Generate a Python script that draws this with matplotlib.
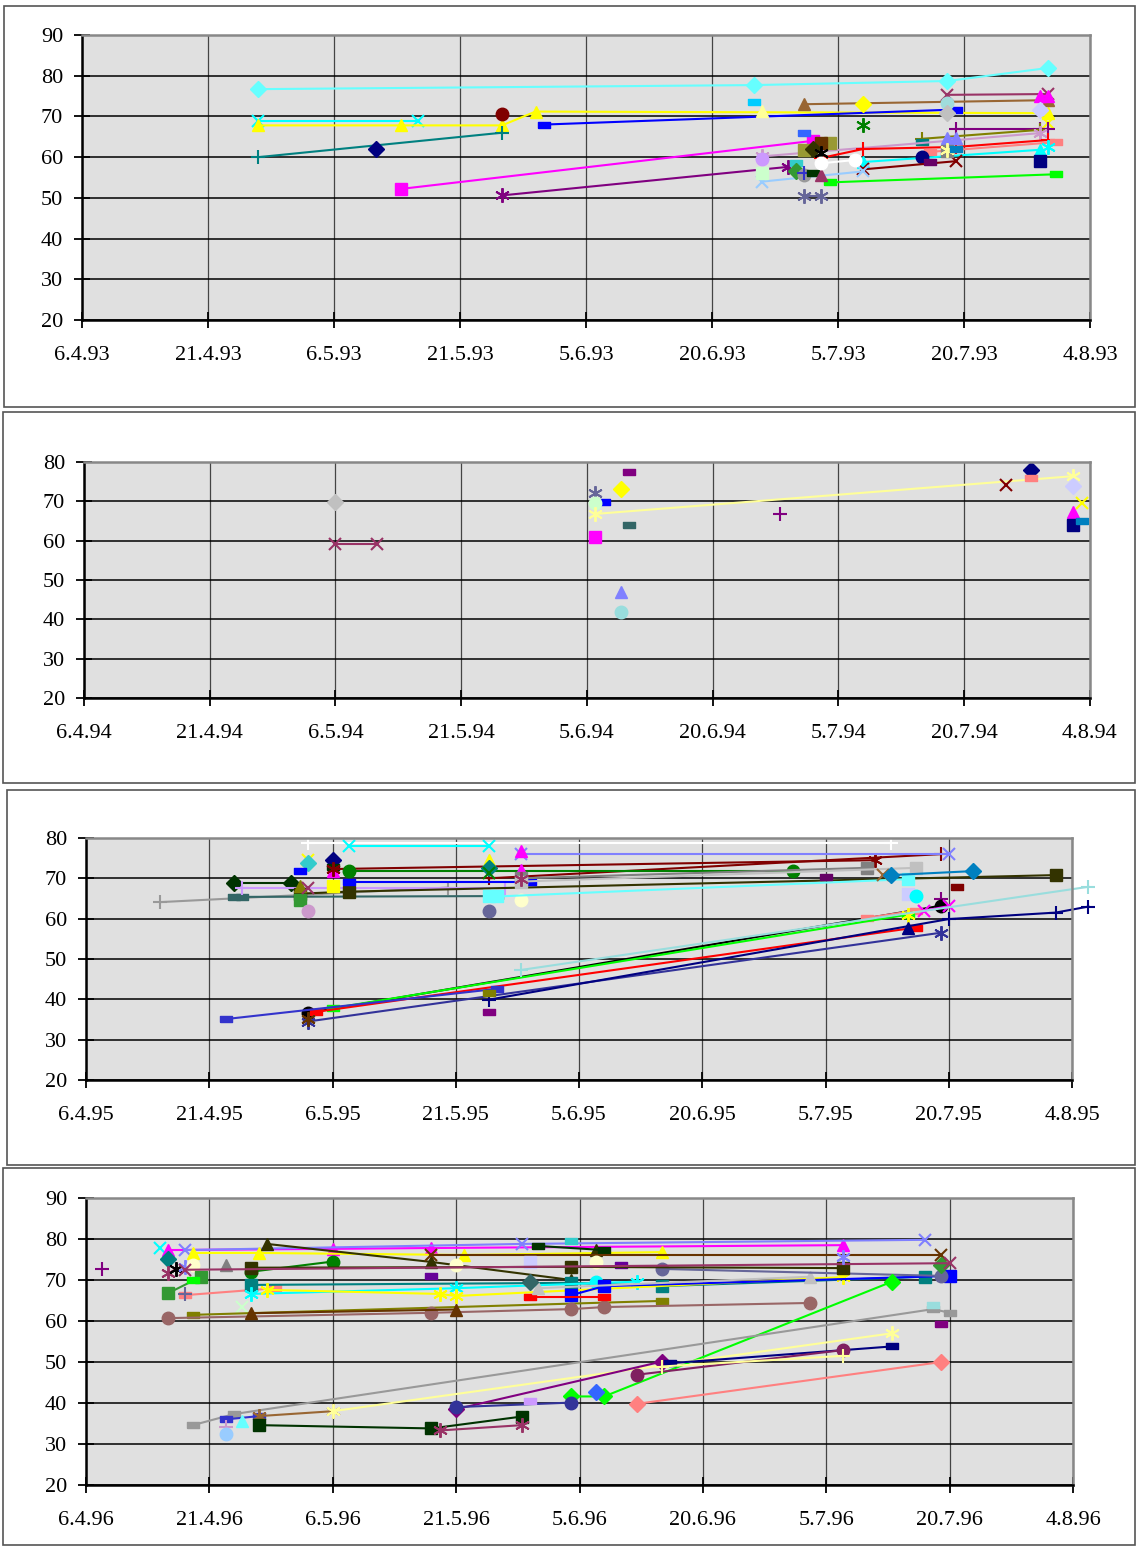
import matplotlib
matplotlib.use('Agg')
import matplotlib.pyplot as plt
import matplotlib.dates as mdates
from matplotlib.patches import Rectangle
import pandas as pd

plt.rcParams['font.family'] = ['Liberation Serif', 'DejaVu Serif']

W, H = 1136, 1546

# ---------------- 1993 ----------------
p1_series = [
    [('27.4', 76.7), ('25.6', 77.7), ('18.7', 78.7), ('30.7', 81.9)],
    [('27.4', 68.8), ('16.5', 68.8)],
    [('27.4', 67.8), ('14.5', 67.8), ('26.5', 67.8), ('30.5', 71.2), ('30.7', 70.8)],
    [('27.4', 60.0), ('26.5', 66.0)],
    [('11.5', 62.0)],
    [('26.5', 70.7)],
    [('31.5', 68.0), ('19.7', 71.7)],
    [('14.5', 52.2), ('2.7', 64.0)],
    [('26.5', 50.6), ('29.6', 57.6)],
    [('1.7', 73.0), ('30.7', 74.0)],
    [('8.7', 73.0)],
    [('18.7', 75.3), ('30.7', 75.5)],
    [('18.7', 73.4)],
    [('18.7', 70.8)],
    [('29.7', 75.0), ('30.7', 75.0)],
    [('29.7', 71.5)],
    [('30.7', 68.5)],
    [('8.7', 67.8)],
    [('19.7', 67.0), ('29.7', 67.0), ('30.7', 67.0)],
    [('15.7', 64.5), ('29.7', 66.7)],
    [('15.7', 63.7)],
    [('26.6', 60.2), ('29.7', 65.9)],
    [('26.6', 59.5)],
    [('3.7', 59.8), ('8.7', 62.0), ('19.7', 62.5), ('30.7', 64.2)],
    [('16.7', 61.3), ('31.7', 63.7)],
    [('8.7', 58.8), ('29.7', 61.8)],
    [('30.7', 62.5)],
    [('29.7', 59.0)],
    [('15.7', 60.0)],
    [('8.7', 57.0), ('19.7', 59.0)],
    [('26.6', 54.0), ('8.7', 56.5)],
    [('26.6', 56.0)],
    [('4.7', 53.8), ('31.7', 55.8)],
    [('1.7', 50.5), ('3.7', 50.5)],
    [('1.7', 61.8), ('4.7', 63.5)],
    [('3.7', 63.5)],
    [('2.7', 62.0)],
    [('3.7', 61.0)],
    [('30.6', 58.5)],
    [('30.6', 56.5)],
    [('1.7', 55.5)],
    [('1.7', 56.0)],
    [('2.7', 56.0)],
    [('3.7', 55.5)],
    [('3.7', 58.5), ('7.7', 59.3)],
    [('1.7', 66.0)],
    [('25.6', 73.5)],
    [('26.6', 71.3)],
    [('18.7', 64.8), ('19.7', 64.8)],
    [('18.7', 61.5)],
    [('18.7', 61.8)],
    [('19.7', 62.0)],
    [('16.7', 58.8)],
]
p1_styles = [
    ('#66ffff', 'D'), ('#00ffff', 'x'), ('#ffff00', '^'), ('#008080', '+'),
    ('#000080', 'D'), ('#800000', 'o'), ('#0000ff', '-'), ('#ff00ff', 's'),
    ('#800080', '*'), ('#996633', '^'), ('#ffff00', 'D'), ('#993366', 'x'),
    ('#a0dcdc', 'o'), ('#c0c0c0', 'D'), ('#ff00ff', '^'), ('#ccccff', 'D'),
    ('#ffff00', 'x'), ('#008000', '*'), ('#800080', '+'), ('#808000', '+'),
    ('#008080', '-'), ('#cc99cc', '*'), ('#cc99ff', 'o'), ('#ff0000', '+'),
    ('#ff8080', '-'), ('#00ffff', '^'), ('#00ffff', '*'), ('#000080', 's'),
    ('#000080', 'o'), ('#800000', 'x'), ('#99ccff', 'x'), ('#ccffcc', 's'),
    ('#00ff00', '-'), ('#666699', '*'), ('#999933', 's'), ('#663300', 's'),
    ('#333300', 'D'), ('#000000', '*'), ('#33cccc', '-'), ('#339933', 'D'),
    ('#999999', 'o'), ('#3333cc', '+'), ('#003300', '-'), ('#993366', '^'),
    ('#ffffff', 'o'), ('#3366ff', '-'), ('#00ccff', '-'), ('#ffff99', '^'),
    ('#8080ff', '^'), ('#808080', 's'), ('#ffff99', '*'), ('#0080c0', '-'),
    ('#660066', '-'),
]

# ---------------- 1994 ----------------
p2_series = [
    [('6.5', 69.8)],
    [('6.5', 59.2), ('11.5', 59.2)],
    [('6.6', 72.0)],
    [('7.6', 69.8)],
    [('6.6', 69.7)],
    [('6.6', 66.8), ('2.8', 76.4)],
    [('6.6', 61.0)],
    [('9.6', 73.1)],
    [('10.6', 77.5)],
    [('10.6', 64.0)],
    [('9.6', 47.0)],
    [('9.6', 41.9)],
    [('28.6', 66.8)],
    [('25.7', 74.1)],
    [('28.7', 78.0)],
    [('28.7', 76.0)],
    [('2.8', 73.9)],
    [('3.8', 69.6)],
    [('2.8', 67.4)],
    [('2.8', 64.0)],
    [('3.8', 65.0)],
]
p2_styles = [
    ('#c0c0c0', 'D'), ('#993366', 'x'), ('#666699', '*'), ('#0000ff', '-'),
    ('#ccffcc', 'o'), ('#ffff99', '*'), ('#ff00ff', 's'), ('#ffff00', 'D'),
    ('#800080', '-'), ('#336666', '-'), ('#8080ff', '^'), ('#99dddd', 'o'),
    ('#800080', '+'), ('#800000', 'x'), ('#000080', 'D'), ('#ff8080', '-'),
    ('#ccccff', 'D'), ('#ffff00', 'x'), ('#ff00ff', '^'), ('#000080', 's'),
    ('#0080c0', '-'),
]

# ---------------- 1995 ----------------
p3_series = [
    [('15.4', 64.1), ('20.5', 67.7)],
    [('24.4', 68.9), ('1.5', 68.9)],
    [('24.4', 65.4), ('25.4', 65.4), ('26.5', 65.6)],
    [('25.4', 67.6), ('27.5', 67.6)],
    [('2.5', 66.2), ('8.5', 66.7), ('2.8', 70.8)],
    [('2.5', 68.0)],
    [('2.5', 64.6)],
    [('3.5', 62.0)],
    [('3.5', 74.6)],
    [('3.5', 73.8)],
    [('3.5', 67.5)],
    [('3.5', 78.8), ('13.7', 78.8)],
    [('2.5', 71.8)],
    [('6.5', 74.6)],
    [('6.5', 71.8)],
    [('6.5', 68.0)],
    [('6.5', 72.8)],
    [('6.5', 72.3), ('11.7', 74.5)],
    [('25.5', 70.0), ('19.7', 76.0)],
    [('8.5', 71.8), ('1.7', 71.8)],
    [('8.5', 78.0), ('25.5', 78.0)],
    [('29.5', 76.0), ('20.7', 76.0)],
    [('29.5', 76.7)],
    [('29.5', 72.0)],
    [('25.5', 74.5)],
    [('25.5', 72.5)],
    [('25.5', 71.3)],
    [('8.5', 69.0), ('30.5', 69.0)],
    [('25.5', 65.5)],
    [('25.5', 61.8)],
    [('29.5', 64.6)],
    [('26.5', 65.5), ('15.7', 69.8)],
    [('29.5', 70.0), ('10.7', 72.6)],
    [('29.5', 69.2), ('16.7', 72.6)],
    [('29.5', 69.8)],
    [('5.7', 70.3)],
    [('12.7', 70.8)],
    [('13.7', 70.8), ('23.7', 71.8)],
    [('15.7', 66.1)],
    [('16.7', 65.6)],
    [('21.7', 67.9)],
    [('19.7', 64.8)],
    [('3.5', 36.6), ('19.7', 63.2)],
    [('10.7', 60.2), ('16.7', 62.0)],
    [('17.7', 62.0), ('20.7', 63.1)],
    [('6.5', 37.8), ('15.7', 61.0)],
    [('15.7', 60.9)],
    [('4.5', 36.9), ('16.7', 57.8)],
    [('15.7', 57.7)],
    [('3.5', 34.5), ('19.7', 56.5)],
    [('25.5', 39.9), ('20.7', 59.9), ('2.8', 61.5), ('6.8', 63.0)],
    [('23.4', 35.1), ('26.5', 42.6)],
    [('29.5', 47.3), ('6.8', 67.9)],
    [('25.5', 41.6)],
    [('25.5', 36.9)],
    [('3.5', 35.0)],
]
p3_styles = [
    ('#999999', '+'), ('#003300', 'D'), ('#336666', '-'), ('#cc99ff', '+'),
    ('#333300', 's'), ('#808000', '^'), ('#339933', 's'), ('#cc99cc', 'o'),
    ('#ffff00', 'x'), ('#33cccc', 'D'), ('#993366', 'x'), ('#ffffff', '+'),
    ('#0000ff', '-'), ('#000080', 'D'), ('#ff00ff', '^'), ('#ffff00', 's'),
    ('#003300', '-'), ('#800000', '*'), ('#800000', '+'), ('#008000', 'o'),
    ('#00ffff', 'x'), ('#8080ff', 'x'), ('#ff00ff', '^'), ('#ff00ff', '^'),
    ('#ffff00', '^'), ('#008080', 'D'), ('#008000', 'x'), ('#0000ff', '-'),
    ('#66ffff', 's'), ('#666699', 'o'), ('#ffffcc', 'o'), ('#66ffff', 's'),
    ('#808080', 's'), ('#c0c0c0', 's'), ('#993366', '*'), ('#660066', '-'),
    ('#996633', 'x'), ('#0080c0', 'D'), ('#ccccff', 's'), ('#00ffff', 'o'),
    ('#800000', '-'), ('#800080', '+'), ('#000000', 'o'), ('#ff8080', '-'),
    ('#ff00ff', 'x'), ('#00ff00', '-'), ('#ffff00', '*'), ('#ff0000', '-'),
    ('#000080', '^'), ('#333399', '*'), ('#000080', '+'), ('#3333cc', '-'),
    ('#99dddd', '+'), ('#808000', '-'), ('#800080', '-'), ('#663300', '*'),
]

# ---------------- 1996 ----------------
p4_series = [
    [('8.4', 72.6)],
    [('15.4', 77.7)],
    [('16.4', 77.3), ('6.5', 77.6), ('18.5', 77.8), ('7.7', 78.5)],
    [('18.4', 77.3), ('29.5', 78.8), ('17.7', 79.8)],
    [('19.4', 76.6), ('27.4', 76.6), ('22.5', 76.1), ('15.6', 76.8)],
    [('16.4', 75.1)],
    [('16.4', 71.7)],
    [('17.4', 72.7)],
    [('18.4', 73.2)],
    [('19.4', 73.7)],
    [('16.4', 66.8), ('20.4', 70.8)],
    [('19.4', 70.0)],
    [('18.4', 66.3), ('29.4', 68.0)],
    [('18.4', 66.6)],
    [('25.4', 63.4)],
    [('19.4', 61.5), ('15.6', 64.9)],
    [('16.4', 60.7), ('18.5', 62.0), ('4.6', 62.9), ('8.6', 63.4), ('3.7', 64.4)],
    [('26.4', 61.9), ('21.5', 62.8)],
    [('28.4', 78.8), ('18.5', 74.4), ('4.6', 70.0)],
    [('7.6', 77.3)],
    [('31.5', 78.3), ('8.6', 77.3)],
    [('4.6', 79.4)],
    [('26.4', 72.0), ('6.5', 74.5)],
    [('18.5', 76.1), ('19.7', 76.1)],
    [('26.4', 68.8), ('4.6', 69.3), ('15.6', 68.5), ('17.7', 70.8)],
    [('26.4', 66.6), ('21.5', 68.0), ('12.6', 69.6)],
    [('7.6', 69.6)],
    [('28.4', 67.6), ('19.5', 66.6), ('21.5', 66.1), ('7.7', 70.7)],
    [('4.6', 66.3), ('8.6', 68.5), ('20.7', 71.0)],
    [('30.5', 65.8), ('8.6', 65.8)],
    [('31.5', 68.0), ('3.7', 70.8)],
    [('23.4', 73.7)],
    [('15.6', 72.7), ('19.7', 71.0)],
    [('10.6', 73.7)],
    [('18.5', 71.0)],
    [('30.5', 74.5)],
    [('21.5', 73.7)],
    [('7.6', 74.5)],
    [('30.5', 69.6)],
    [('26.4', 73.0), ('4.6', 73.2), ('7.7', 72.9)],
    [('19.7', 73.7)],
    [('18.4', 72.5), ('20.7', 74.1)],
    [('7.7', 75.6)],
    [('4.6', 41.6), ('8.6', 41.6), ('13.7', 69.6)],
    [('7.6', 42.6)],
    [('12.6', 39.8), ('19.7', 50.0)],
    [('19.4', 34.6), ('24.4', 37.3), ('18.7', 62.9), ('20.7', 62.0)],
    [('18.7', 64.0)],
    [('19.7', 59.3)],
    [('23.4', 36.0), ('27.4', 36.8)],
    [('27.4', 36.8), ('6.5', 38.0)],
    [('6.5', 38.0), ('13.7', 57.0)],
    [('25.4', 35.6)],
    [('23.4', 34.2)],
    [('23.4', 32.4)],
    [('27.4', 34.6), ('18.5', 33.8), ('29.5', 36.7)],
    [('19.5', 33.3), ('29.5', 34.6)],
    [('21.5', 38.5), ('15.6', 50.1)],
    [('21.5', 39.0), ('4.6', 40.1)],
    [('30.5', 40.6)],
    [('16.6', 49.7), ('13.7', 53.8)],
    [('12.6', 46.9), ('7.7', 52.9)],
    [('15.6', 48.9), ('7.7', 51.5)],
]
p4_styles = [
    ('#800080', '+'), ('#00ffff', 'x'), ('#ff00ff', '^'), ('#8080ff', 'x'),
    ('#ffff00', '^'), ('#008080', 'D'), ('#993366', '*'), ('#000000', '*'),
    ('#8080ff', '*'), ('#ffffcc', 'o'), ('#339933', 's'), ('#00ff00', '-'),
    ('#ff8080', '-'), ('#666699', '+'), ('#ccffcc', 'x'), ('#808000', '-'),
    ('#996666', 'o'), ('#663300', '^'), ('#333300', '^'), ('#333300', '^'),
    ('#003300', '-'), ('#33cccc', '-'), ('#008000', 'o'), ('#663300', 'x'),
    ('#008080', 's'), ('#00ffff', '*'), ('#00ffff', 'o'), ('#ffff00', '*'),
    ('#0000ff', 's'), ('#ff0000', '-'), ('#c0c0c0', '^'), ('#808080', '^'),
    ('#666699', 'o'), ('#660099', '-'), ('#660099', '-'), ('#ccccff', 's'),
    ('#ffffcc', 'o'), ('#ffffcc', 'o'), ('#336666', 'D'), ('#333300', 's'),
    ('#339933', 'D'), ('#993366', 'x'), ('#8080ff', '*'), ('#00ff00', 'D'),
    ('#3366ff', 'D'), ('#ff8080', 'D'), ('#999999', '-'), ('#99dddd', '-'),
    ('#800080', '-'), ('#3333cc', '-'), ('#996633', '*'), ('#ffff99', '*'),
    ('#66ffff', '^'), ('#cc99cc', '+'), ('#99ccff', 'o'), ('#003300', 's'),
    ('#993366', '*'), ('#800080', 'D'), ('#333399', 'o'), ('#cc99ff', '-'),
    ('#000080', '-'), ('#802060', 'o'), ('#ffff99', '+'),
]

years = [1993, 1994, 1995, 1996]
y_ranges = [(20, 90), (20, 80), (20, 80), (20, 90)]

# layout in pixels: outer frame and plot area (left, top, right, bottom)
frames = [(4, 6, 1135, 407), (3, 412, 1135, 783), (7, 790, 1135, 1165), (3, 1168, 1135, 1545)]
boxes = [(82, 35, 1090, 320), (84, 462, 1090, 698), (86, 838, 1072, 1080), (86, 1198, 1073, 1485)]

RECT = [(-1, -0.5), (1, -0.5), (1, 0.5), (-1, 0.5), (-1, -0.5)]
MARKERS = {
    'D': dict(marker='D', ms=8),
    's': dict(marker='s', ms=8),
    '^': dict(marker='^', ms=9),
    'o': dict(marker='o', ms=9),
    'x': dict(marker='x', ms=9, mew=1.5),
    '*': dict(marker=(6, 2, 0), ms=10.5, mew=1.4),
    '+': dict(marker='+', ms=10.5, mew=1.5),
    '-': dict(marker=RECT, ms=8.5),
}


def to_date(s, year):
    d, m = s.split('.')
    return pd.Timestamp(year, int(m), int(d))


fig = plt.figure(figsize=(W / 100, H / 100), dpi=100)

panels = [(p1_series, p1_styles), (p2_series, p2_styles), (p3_series, p3_styles), (p4_series, p4_styles)]
for (series, styles), year, (y0, y1), frame, box in zip(panels, years, y_ranges, frames, boxes):
    assert len(series) == len(styles)
    l, t, r, b = frame
    fig.add_artist(Rectangle((l / W, 1 - b / H), (r - l) / W, (b - t) / H,
                             transform=fig.transFigure, fill=False, ec='#555555', lw=1.2))
    l, t, r, b = box
    ax = fig.add_axes([l / W, 1 - b / H, (r - l) / W, (b - t) / H])
    ax.set_facecolor('#e0e0e0')

    for pts, (color, mk) in zip(series, styles):
        xs = mdates.date2num([to_date(d, year) for d, _ in pts])
        ys = [v for _, v in pts]
        ax.plot(xs, ys, color=color, lw=1.5, mfc=color, mec=color, clip_on=False, **MARKERS[mk])

    start = pd.Timestamp(year, 4, 6)
    ticks = [start + pd.Timedelta(days=15 * i) for i in range(9)]
    tnum = mdates.date2num(ticks)
    ax.set_xlim(tnum[0], tnum[-1])
    ax.set_xticks(tnum)
    ax.set_xticklabels([f'{t.day}.{t.month}.{t:%y}' for t in ticks])
    ax.set_ylim(y0, y1)
    ax.set_yticks(range(y0, y1 + 1, 10))

    ax.set_axisbelow(True)
    ax.grid(True, axis='x', color='#444444', lw=0.9)
    ax.grid(True, axis='y', color='black', lw=1.1)
    for side in ['left', 'bottom']:
        ax.spines[side].set_color('black')
        ax.spines[side].set_linewidth(1.8)
    for side in ['top', 'right']:
        ax.spines[side].set_color('#888888')
        ax.spines[side].set_linewidth(1.8)
    ax.tick_params(direction='inout', length=11, width=1.3, labelsize=16)
    ax.tick_params(axis='x', pad=13)
    ax.tick_params(axis='y', pad=8)

fig.savefig('out.png', dpi=100)
